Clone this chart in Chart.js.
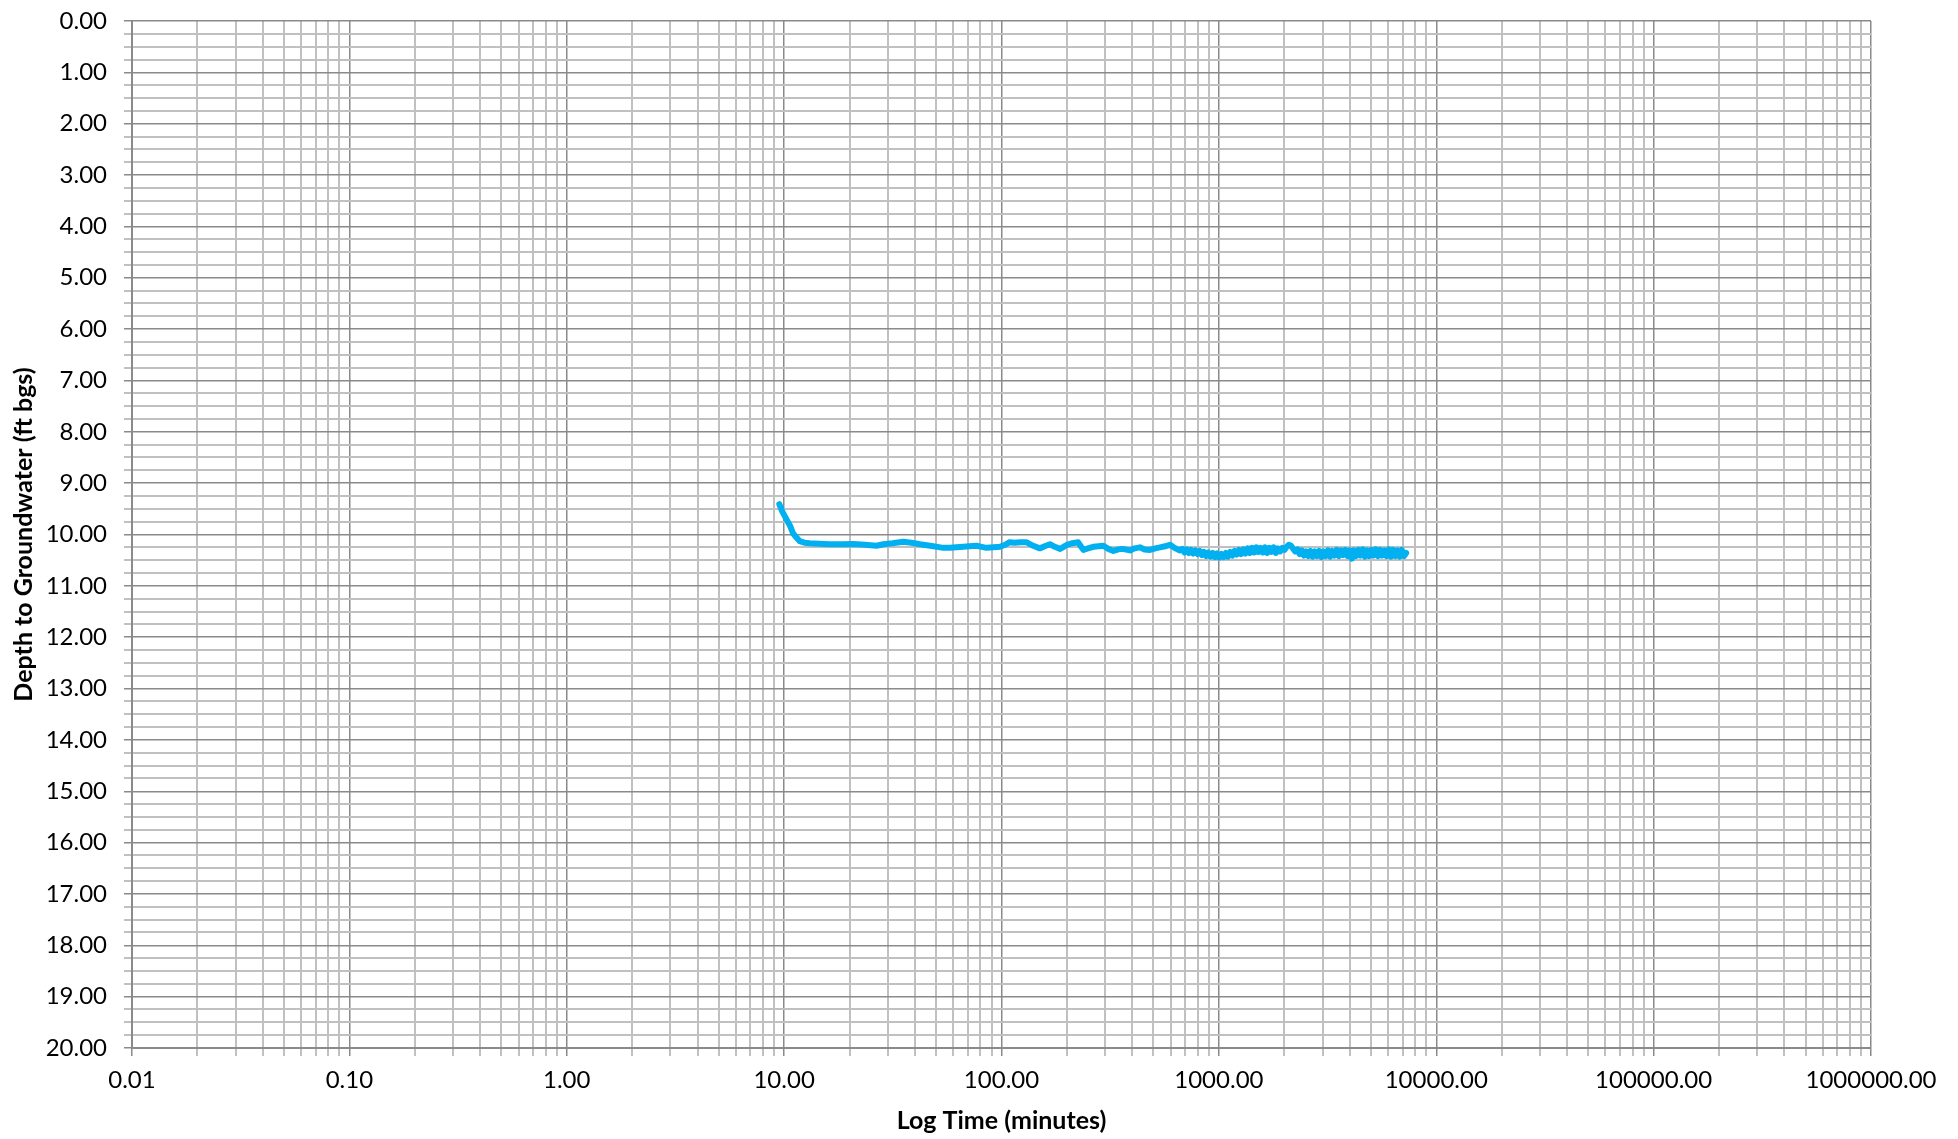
<!DOCTYPE html>
<html>
<head>
<meta charset="utf-8">
<script src="https://cdn.jsdelivr.net/npm/chart.js@4/dist/chart.umd.min.js"></script>
<style>
  html, body { margin: 0; padding: 0; background: #fff; }
  canvas { display: block; }
</style>
</head>
<body>
<canvas id="chart" width="1958" height="1139"></canvas>
<script>
// elapsed time (minutes) and depth to groundwater (ft bgs)
const times = [
  9.5, 9.8, 10.3, 10.7, 11.0, 11.4, 11.8, 12.4, 13.1, 14.5, 16.2, 18.5, 20.8, 23.5, 26.6, 28.6,
  31.5, 35.3, 38.5, 42.2, 47, 54, 58, 62, 66.7, 71, 76.9, 81, 85.4, 92, 98.4, 104, 109, 115, 122,
  130, 140, 150, 158, 167, 176, 186, 193, 200, 212, 225, 238, 250, 264, 280, 294, 310, 327, 345,
  360, 390, 410, 433, 455, 482, 510, 536, 565, 596, 630, 662,
  680, 695, 712, 728, 745, 762, 780, 798, 817, 836, 855, 875, 895, 916, 938, 960, 982,
  1005, 1028, 1052, 1077, 1102, 1128, 1154, 1181, 1208, 1236, 1265, 1295, 1325, 1356, 1387,
  1419, 1452, 1486, 1521, 1556, 1592, 1629, 1667, 1706, 1746, 1786, 1828, 1870, 1914, 1958,
  2004, 2050, 2098, 2147, 2197, 2248, 2300, 2354, 2409, 2465, 2522, 2581, 2641, 2702, 2765,
  2830, 2896, 2963, 3032, 3103, 3175, 3249, 3324, 3402, 3481, 3562, 3645, 3730, 3817, 3906,
  3997, 4090, 4185, 4283, 4382, 4485, 4589, 4696, 4805, 4917, 5032, 5149, 5269, 5391, 5517,
  5645, 5777, 5911, 6049, 6190, 6334, 6482, 6633, 6787, 6946, 7107, 7273
]
const depths = [
  9.41, 9.55, 9.72, 9.85, 9.98, 10.06, 10.13, 10.16, 10.17, 10.18, 10.19, 10.19, 10.185, 10.20, 10.22, 10.19,
  10.17, 10.14, 10.16, 10.19, 10.22, 10.26, 10.26, 10.25, 10.24, 10.23, 10.22, 10.24, 10.26, 10.25, 10.24, 10.20, 10.15, 10.16, 10.15,
  10.15, 10.22, 10.27, 10.23, 10.19, 10.24, 10.28, 10.24, 10.20, 10.17, 10.15, 10.30, 10.27, 10.24, 10.23, 10.22, 10.28, 10.32, 10.29,
  10.28, 10.31, 10.27, 10.25, 10.29, 10.30, 10.27, 10.25, 10.23, 10.20, 10.27, 10.31,
  10.28, 10.35, 10.29, 10.36, 10.30, 10.37, 10.31, 10.38, 10.32, 10.40, 10.34, 10.42, 10.35, 10.43, 10.36, 10.44, 10.37,
  10.45, 10.38, 10.44, 10.36, 10.43, 10.34, 10.41, 10.32, 10.39, 10.30, 10.38, 10.29, 10.37, 10.27, 10.36,
  10.26, 10.35, 10.25, 10.34, 10.26, 10.35, 10.25, 10.36, 10.26, 10.34, 10.25, 10.36, 10.27, 10.33, 10.26,
  10.30, 10.24, 10.20, 10.22, 10.28, 10.33, 10.29, 10.38, 10.31, 10.41, 10.33, 10.42, 10.32, 10.43, 10.33,
  10.42, 10.32, 10.44, 10.33, 10.42, 10.31, 10.43, 10.32, 10.41, 10.30, 10.42, 10.31, 10.40, 10.30, 10.42,
  10.31, 10.47, 10.31, 10.42, 10.30, 10.41, 10.29, 10.43, 10.31, 10.42, 10.30, 10.41, 10.29, 10.42, 10.30,
  10.41, 10.31, 10.42, 10.29, 10.43, 10.30, 10.42, 10.31, 10.43, 10.30, 10.42, 10.36
]

// axis ticks
const xDecades = [0.01, 0.1, 1, 10, 100, 1000, 10000, 100000, 1000000]
const xSubSteps = [1, 2, 3, 4, 5, 6, 7, 8, 9]
const yMin = 0, yMax = 20, yStep = 0.25

const FONT = 'Lato, "Open Sans", "DejaVu Sans", sans-serif'
const MAJOR = '#8a8a8a'
const MINOR = '#c0c0c0'

const isDecade = v => Math.abs(Math.log10(v) - Math.round(Math.log10(v))) < 1e-9

new Chart(document.getElementById('chart'), {
  type: 'line',
  data: {
    datasets: [{
      data: times.map((t, i) => ({ x: t, y: depths[i] })),
      borderColor: '#00B0F0',
      borderWidth: 6,
      pointRadius: 0,
      tension: 0,
      borderJoinStyle: 'round',
      borderCapStyle: 'round',
      fill: false,
    }],
  },
  options: {
    responsive: false,
    animation: false,
    layout: { padding: { top: 21, right: 87, left: 0, bottom: 0 } },
    plugins: { legend: { display: false }, tooltip: { enabled: false } },
    scales: {
      x: {
        type: 'logarithmic',
        min: 0.01, max: 1000000,
        afterBuildTicks: s => {
          const ticks = []
          xDecades.forEach((d, i) => {
            if (i === xDecades.length - 1) { ticks.push({ value: d }); return }
            xSubSteps.forEach(m => ticks.push({ value: +(d * m).toPrecision(6) }))
          })
          s.ticks = ticks
        },
        afterFit: s => { s.height = 91 },
        grid: {
          color: c => (c.tick && isDecade(c.tick.value)) ? MAJOR : MINOR,
          lineWidth: c => (c.tick && isDecade(c.tick.value)) ? 1.5 : 2,
          tickLength: 8,
          drawTicks: true,
        },
        border: { color: MAJOR, width: 2 },
        ticks: {
          autoSkip: false, maxRotation: 0, minRotation: 0, padding: 10,
          font: { family: FONT, size: 24 }, color: '#000',
          callback: v => isDecade(v) ? v.toFixed(2) : '',
        },
        title: {
          display: true, text: 'Log Time (minutes)', color: '#000',
          font: { family: FONT, size: 25, weight: 'bold' },
          padding: { top: 3, bottom: 3 },
        },
      },
      y: {
        type: 'linear',
        reverse: true,
        min: yMin, max: yMax,
        afterFit: s => { s.width = 132; s.paddingTop = 0; s.paddingBottom = 0 },
        grid: {
          color: c => (c.tick && Number.isInteger(c.tick.value)) ? MAJOR : MINOR,
          lineWidth: c => (c.tick && Number.isInteger(c.tick.value)) ? 1.5 : 2,
          tickLength: 8,
        },
        border: { color: MAJOR, width: 2 },
        ticks: {
          stepSize: yStep, autoSkip: false, maxTicksLimit: 200, padding: 17,
          font: { family: FONT, size: 24 }, color: '#000',
          callback: v => Number.isInteger(v) ? v.toFixed(2) : '',
        },
        title: {
          display: true, text: 'Depth to Groundwater (ft bgs)', color: '#000',
          font: { family: FONT, size: 25, weight: 'bold' },
          padding: { top: 9, bottom: 0 },
        },
      },
    },
  },
})
</script>
</body>
</html>
